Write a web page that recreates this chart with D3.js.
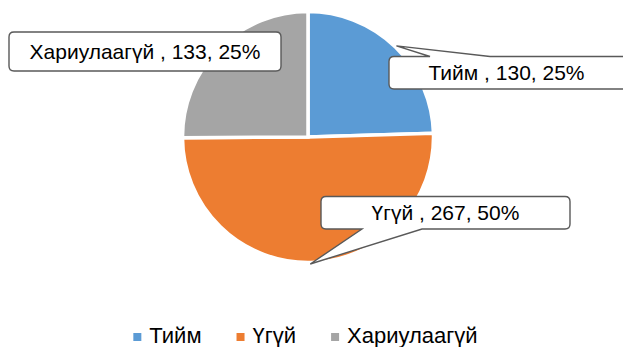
<!DOCTYPE html>
<html>
<head>
<meta charset="utf-8">
<script src="https://cdn.jsdelivr.net/npm/d3@7"></script>
<style>
  html, body { margin: 0; padding: 0; background: #fff; }
  svg { display: block; font-family: "Liberation Sans", Arial, sans-serif; }
</style>
</head>
<body>
<svg id="chart" width="623" height="347"></svg>
<script>
// Survey answers
const categories = ["Тийм", "Үгүй", "Хариулаагүй"];
const counts = [130, 267, 133];
const colors = ["#5B9BD5", "#ED7D31", "#A5A5A5"];

const W = 623, H = 347;
const cx = 308, cy = 137, R = 125.5;

const svg = d3.select("#chart");
const total = d3.sum(counts);
const rows = categories.map((c, i) => ({ name: c, value: counts[i], color: colors[i] }));

const pie = d3.pie().value(d => d.value).sort(null).startAngle(0).endAngle(2 * Math.PI);
const arcs = pie(rows);
const arc = d3.arc().innerRadius(0).outerRadius(R);

const g = svg.append("g").attr("transform", `translate(${cx},${cy})`);
g.selectAll("path.slice")
  .data(arcs)
  .enter().append("path")
  .attr("class", "slice")
  .attr("d", arc)
  .attr("fill", d => d.data.color)
  .attr("stroke", "#fff")
  .attr("stroke-width", 3.5)
  .attr("stroke-linejoin", "miter");

// Callout boxes: rectangle placement per slice; the pointer tip sits on the slice rim
const boxes = [
  { x: 389, y: 56.5, w: 245, h: 32.5 },
  { x: 321, y: 196.5, w: 249, h: 32.5 },
  { x: 9, y: 32, w: 272, h: 39 }
];

function calloutPath(b, tip) {
  const r = 5;
  const x0 = b.x, y0 = b.y, x1 = b.x + b.w, y1 = b.y + b.h;
  const inside = tip[0] >= x0 && tip[0] <= x1 && tip[1] >= y0 && tip[1] <= y1;
  const off = 41, bw = 60;
  let p = `M${x0 + r},${y0}`;
  if (!inside && tip[1] < y0) {
    p += `L${x0 + off},${y0}L${tip[0]},${tip[1]}L${x0 + off + bw},${y0}`;
  }
  p += `L${x1 - r},${y0}Q${x1},${y0} ${x1},${y0 + r}`;
  p += `L${x1},${y1 - r}Q${x1},${y1} ${x1 - r},${y1}`;
  if (!inside && tip[1] > y1) {
    p += `L${x0 + off + bw},${y1}L${tip[0]},${tip[1]}L${x0 + off},${y1}`;
  }
  p += `L${x0 + r},${y1}Q${x0},${y1} ${x0},${y1 - r}`;
  p += `L${x0},${y0 + r}Q${x0},${y0} ${x0 + r},${y0}Z`;
  return p;
}

const labels = svg.append("g");
arcs.forEach((a, i) => {
  const mid = (a.startAngle + a.endAngle) / 2;
  const tip = [cx + Math.sin(mid) * (R + 1.5), cy - Math.cos(mid) * (R + 1.5)];
  const b = boxes[i];
  labels.append("path")
    .attr("d", calloutPath(b, tip))
    .attr("fill", "#fff")
    .attr("stroke", "#595959")
    .attr("stroke-width", 1.4)
    .attr("stroke-linejoin", "miter");
  const pct = Math.round(a.data.value / total * 100);
  labels.append("text")
    .attr("x", b.x + b.w / 2 + (i === 0 ? -5 : 0))
    .attr("y", b.y + b.h / 2 + 7.5)
    .attr("text-anchor", "middle")
    .attr("font-size", 21)
    .attr("fill", "#000")
    .text(`${a.data.name} , ${a.data.value}, ${pct}%`);
});

// Legend
const legend = svg.append("g");
const sq = 8, gapText = 8, gapItem = 35;
const items = rows.map(d => {
  const it = legend.append("g");
  it.append("rect").attr("width", sq).attr("height", sq).attr("y", 333).attr("fill", d.color);
  const t = it.append("text").attr("x", sq + gapText).attr("y", 343)
    .attr("font-size", 22).attr("fill", "#000").text(d.name);
  return { g: it, w: sq + gapText + t.node().getComputedTextLength() };
});
const totalW = d3.sum(items, d => d.w) + gapItem * (items.length - 1);
let lx = 305.5 - totalW / 2;
items.forEach(it => {
  it.g.attr("transform", `translate(${lx},0)`);
  lx += it.w + gapItem;
});
</script>
</body>
</html>
